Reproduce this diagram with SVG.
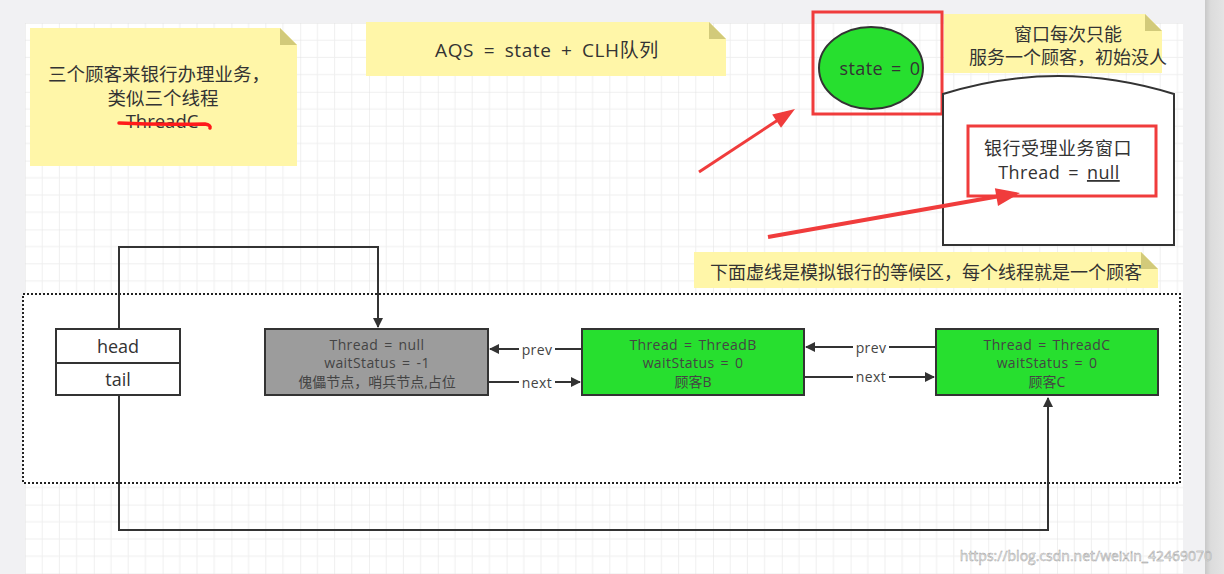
<svg xmlns="http://www.w3.org/2000/svg" width="1224" height="574" viewBox="0 0 1224 574">
<defs>
<pattern id="grid" x="25" y="23" width="68.8" height="68.8" patternUnits="userSpaceOnUse">
<path d="M17.2 0V68.8M34.4 0V68.8M51.6 0V68.8M0 17.2H68.8M0 34.4H68.8M0 51.6H68.8" stroke="#efefef" stroke-width="1" fill="none"/>
<path d="M0 0V68.8M0 0H68.8" stroke="#e2e2e2" stroke-width="1" fill="none"/>
</pattern>
<marker id="arr" viewBox="0 0 10 10" refX="9" refY="5" markerWidth="10" markerHeight="10" markerUnits="userSpaceOnUse" orient="auto">
<path d="M0 0L10 5L0 10Z" fill="#333"/>
</marker>
<linearGradient id="side" x1="0" x2="1" y1="0" y2="0">
<stop offset="0" stop-color="#c8c8c8"/>
<stop offset="0.3" stop-color="#dcdcdc"/>
<stop offset="1" stop-color="#e4e4e4"/>
</linearGradient>
</defs>
<style>
text{font-family:"Open Sans","Noto Sans CJK SC",sans-serif;fill:#333;text-anchor:middle}
.note{fill:#fff6a8}
.fold{fill:#d2ca7a}
.t18{font-size:18px}
.t14{font-size:14px;fill:#444}
.l14{letter-spacing:0.4px;word-spacing:2px}
.l18{letter-spacing:0.4px;word-spacing:3px}
.box{stroke:#333;stroke-width:2}
.conn{fill:none;stroke:#333;stroke-width:2}
.red{fill:none;stroke:#f03c3c;stroke-width:3}
</style>
<rect width="1224" height="574" fill="#f1f1f3"/>
<rect x="25" y="23" width="1158" height="551" fill="#ffffff"/>
<rect x="25" y="23" width="1158" height="551" fill="url(#grid)"/>
<rect x="1205" y="0" width="19" height="574" fill="url(#side)"/>

<g id="note1">
<path class="note" d="M30 28H280L297 45V166H30Z"/>
<path class="fold" d="M280 28L297 45H280Z"/>
<text x="159" y="81" style="font-size:18.5px">三个顾客来银行办理业务，</text>
<text x="163" y="105" style="font-size:18.5px">类似三个线程</text>
<text x="162" y="128" style="font-size:18.5px">ThreadC</text>
<path d="M119 123Q160 125 205 124Q211 125 210 128" fill="none" stroke="#ff1a1a" stroke-width="3.5" stroke-linecap="round"/>
</g>

<g id="note2">
<path class="note" d="M366 22H709L726 39V76H366Z"/>
<path class="fold" d="M709 22L726 39H709Z"/>
<text x="547" y="57" style="font-size:19px;letter-spacing:0.6px;word-spacing:4px">AQS = state + CLH队列</text>
</g>

<g id="state">
<rect class="red" x="813" y="12" width="129" height="102"/>
<ellipse cx="871" cy="68" rx="52" ry="41" fill="#27df2f" stroke="#333" stroke-width="2"/>
<text class="t18 l18" x="880" y="75">state = 0</text>
</g>

<g id="note3">
<path class="note" d="M944 14H1145L1162 31V73H944Z"/>
<path class="fold" d="M1145 14L1162 31H1145Z"/>
<text class="t18" x="1068" y="41">窗口每次只能</text>
<text class="t18" x="1068" y="64">服务一个顾客，初始没人</text>
</g>

<g id="window">
<path d="M943 245V94Q1058 58 1174 94V245Z" fill="#fff" stroke="#333" stroke-width="2"/>
<rect class="red" x="968" y="126" width="188" height="70"/>
<text class="t18" x="1058" y="155" style="letter-spacing:0.5px">银行受理业务窗口</text>
<text class="t18 l18" x="1059" y="179">Thread = <tspan text-decoration="underline">null</tspan></text>
</g>

<g id="redarrows">
<path d="M699 172L781 118" stroke="#f03c3c" stroke-width="3" fill="none"/>
<path d="M795 109L781 127.8L772.2 114.4Z" fill="#f03c3c"/>
<path d="M768 237L1000 196" stroke="#f03c3c" stroke-width="4" fill="none"/>
<path d="M1020 193L998 206L994.9 188.2Z" fill="#f03c3c"/>
</g>

<g id="note4">
<path class="note" d="M694 252H1141L1158 269V288H694Z"/>
<path class="fold" d="M1141 252L1158 269H1141Z"/>
<text class="t18" x="926" y="279">下面虚线是模拟银行的等候区，每个线程就是一个顾客</text>
</g>

<g id="waitarea">
<rect x="23" y="294" width="1157" height="189" fill="#fff" stroke="#222" stroke-width="2" stroke-dasharray="2 2"/>
</g>

<g id="connectors">
<path class="conn" d="M119 329V247H378V327" marker-end="url(#arr)"/>
<path class="conn" d="M119 395V530H1048V398" marker-end="url(#arr)"/>
<path class="conn" d="M582 349H490" marker-end="url(#arr)"/>
<path class="conn" d="M488 382H580" marker-end="url(#arr)"/>
<path class="conn" d="M936 347H806" marker-end="url(#arr)"/>
<path class="conn" d="M804 377H934" marker-end="url(#arr)"/>
<rect x="519" y="340" width="36" height="17" fill="#fff"/>
<rect x="519" y="374" width="36" height="17" fill="#fff"/>
<rect x="853" y="338" width="36" height="17" fill="#fff"/>
<rect x="853" y="368" width="36" height="17" fill="#fff"/>
<text class="t14 l14" x="537" y="355">prev</text>
<text class="t14 l14" x="537" y="388">next</text>
<text class="t14 l14" x="871" y="353">prev</text>
<text class="t14 l14" x="871" y="382">next</text>
</g>

<g id="headtail">
<rect class="box" x="56" y="329" width="124" height="66" fill="#fff"/>
<line class="box" x1="56" y1="363" x2="180" y2="363"/>
<text class="t18" x="118" y="353">head</text>
<text class="t18" x="118" y="386">tail</text>
</g>

<g id="nodeA">
<rect class="box" x="265" y="329" width="223" height="66" fill="#9c9c9c"/>
<text class="t14 l14" x="377" y="350">Thread = null</text>
<text class="t14 l14" x="377" y="368">waitStatus = -1</text>
<text class="t14" x="377" y="387">傀儡节点，哨兵节点,占位</text>
</g>

<g id="nodeB">
<rect class="box" x="582" y="329" width="222" height="66" fill="#27df2f"/>
<text class="t14 l14" x="693" y="350">Thread = ThreadB</text>
<text class="t14 l14" x="693" y="368">waitStatus = 0</text>
<text class="t14" x="693" y="387">顾客B</text>
</g>

<g id="nodeC">
<rect class="box" x="936" y="329" width="222" height="66" fill="#27df2f"/>
<text class="t14 l14" x="1047" y="350">Thread = ThreadC</text>
<text class="t14 l14" x="1047" y="368">waitStatus = 0</text>
<text class="t14" x="1047" y="387">顾客C</text>
</g>

<text x="1212" y="561" style="font-size:14px;text-anchor:end;fill:#e8e8e8;stroke:#9a9a9a;stroke-width:0.4">https://blog.csdn.net/weixin_42469070</text>
</svg>
